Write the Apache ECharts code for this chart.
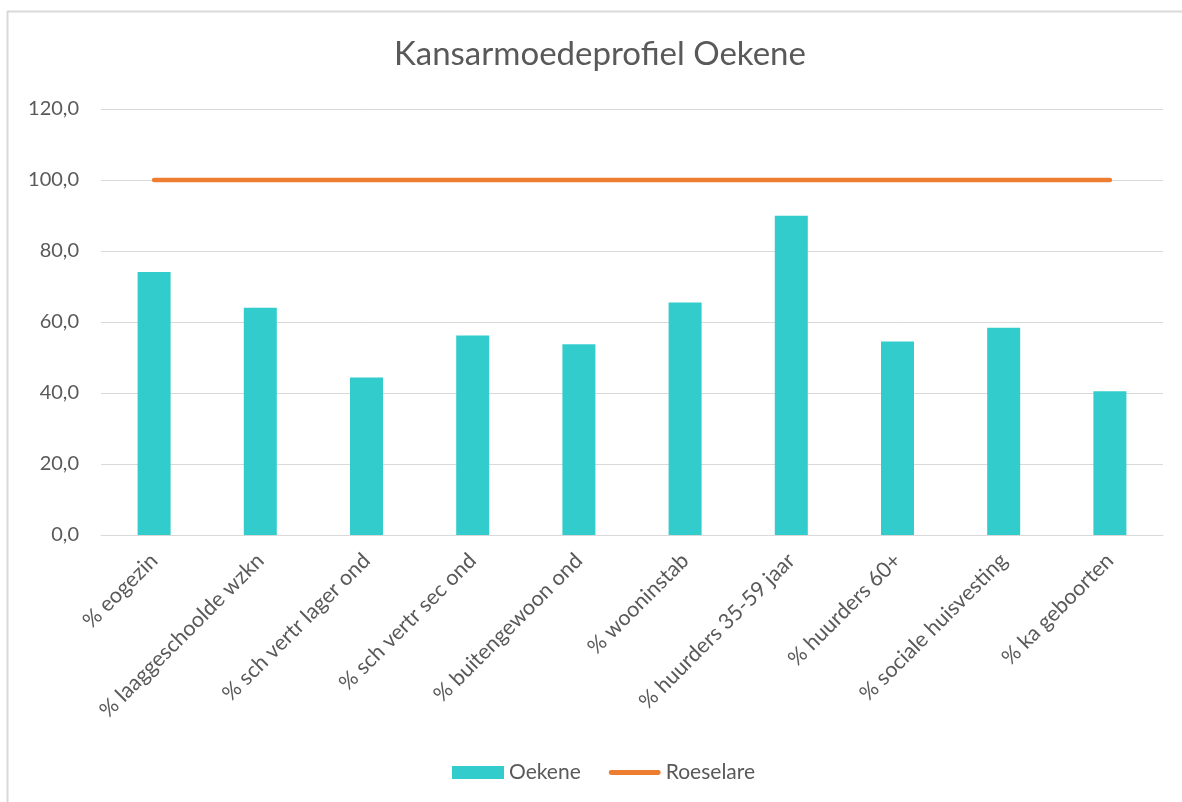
<!DOCTYPE html>
<html>
<head>
<meta charset="utf-8">
<script src="https://cdn.jsdelivr.net/npm/echarts@6/dist/echarts.min.js"></script>
<style>
html,body{margin:0;padding:0;background:#fff;}
#c{width:1182px;height:802px;}
</style>
</head>
<body>
<div id="c"></div>
<script>
const titleText = 'Kansarmoedeprofiel Oekene';
const categories = ['% eogezin','% laaggeschoolde wzkn','% sch vertr lager ond','% sch vertr sec ond','% buitengewoon ond','% wooninstab','% huurders 35-59 jaar','% huurders 60+','% sociale huisvesting','% ka geboorten'];
const oekeneValues = [74.1, 64.0, 44.4, 56.2, 53.7, 65.5, 89.9, 54.5, 58.4, 40.5];
const roeselareValues = [100, 100, 100, 100, 100, 100, 100, 100, 100, 100];
const seriesNames = ['Oekene', 'Roeselare'];

const FONT = 'Lato, "Open Sans", sans-serif';
const TXT = '#595959';

const chart = echarts.init(document.getElementById('c'), null, {renderer:'canvas'});
chart.setOption({
  animation: false,
  backgroundColor: '#fff',
  textStyle: {fontFamily: FONT},
  title: {
    text: titleText,
    left: 389,
    top: 33,
    textStyle: {fontFamily: FONT, fontSize: 33, fontWeight: 'normal', color: TXT}
  },
  graphic: [
    {type:'line', shape:{x1:7.5,y1:11,x2:7.5,y2:802}, style:{stroke:'#D9D9D9', lineWidth:2}},
    {type:'line', shape:{x1:7,y1:11.5,x2:1182,y2:11.5}, style:{stroke:'#D9D9D9', lineWidth:2}}
  ],
  legend: {
    left: 447,
    top: 757,
    itemGap: 28,
    itemWidth: 52,
    itemHeight: 13,
    textStyle: {fontFamily: FONT, fontSize: 21, color: TXT},
    data: [
      {name: seriesNames[0], icon: 'rect'},
      {name: seriesNames[1], icon: 'path://M2.5,0 L51.5,0 A2.5,2.5 0 0 1 51.5,5 L2.5,5 A2.5,2.5 0 0 1 2.5,0 Z',
       itemStyle: {color: '#ED7D31', borderWidth: 0}, lineStyle: {width: 0}}
    ]
  },
  grid: {left: 101, right: 19, top: 109, bottom: 267, containLabel: false},
  xAxis: {
    type: 'category',
    data: categories,
    axisLine: {show: true, lineStyle: {color: '#D9D9D9', width: 1}},
    axisTick: {show: false},
    axisLabel: {rotate: 45, interval: 0, color: TXT, fontFamily: FONT, fontSize: 21.5, margin: 22}
  },
  yAxis: {
    type: 'value',
    min: 0, max: 120, interval: 20,
    axisLine: {show: false},
    axisTick: {show: false},
    splitLine: {lineStyle: {color: '#D9D9D9', width: 1}},
    axisLabel: {
      color: TXT, fontFamily: FONT, fontSize: 20, margin: 22,
      formatter: v => v.toFixed(1).replace('.', ',')
    }
  },
  series: [
    {
      name: seriesNames[0],
      type: 'bar',
      data: oekeneValues,
      barWidth: 33,
      itemStyle: {color: '#33CCCC'}
    },
    {
      name: seriesNames[1],
      type: 'line',
      data: roeselareValues,
      symbol: 'none',
      lineStyle: {color: '#ED7D31', width: 4.5, cap: 'round'},
      itemStyle: {color: '#ED7D31'}
    }
  ]
});
</script>
</body>
</html>
